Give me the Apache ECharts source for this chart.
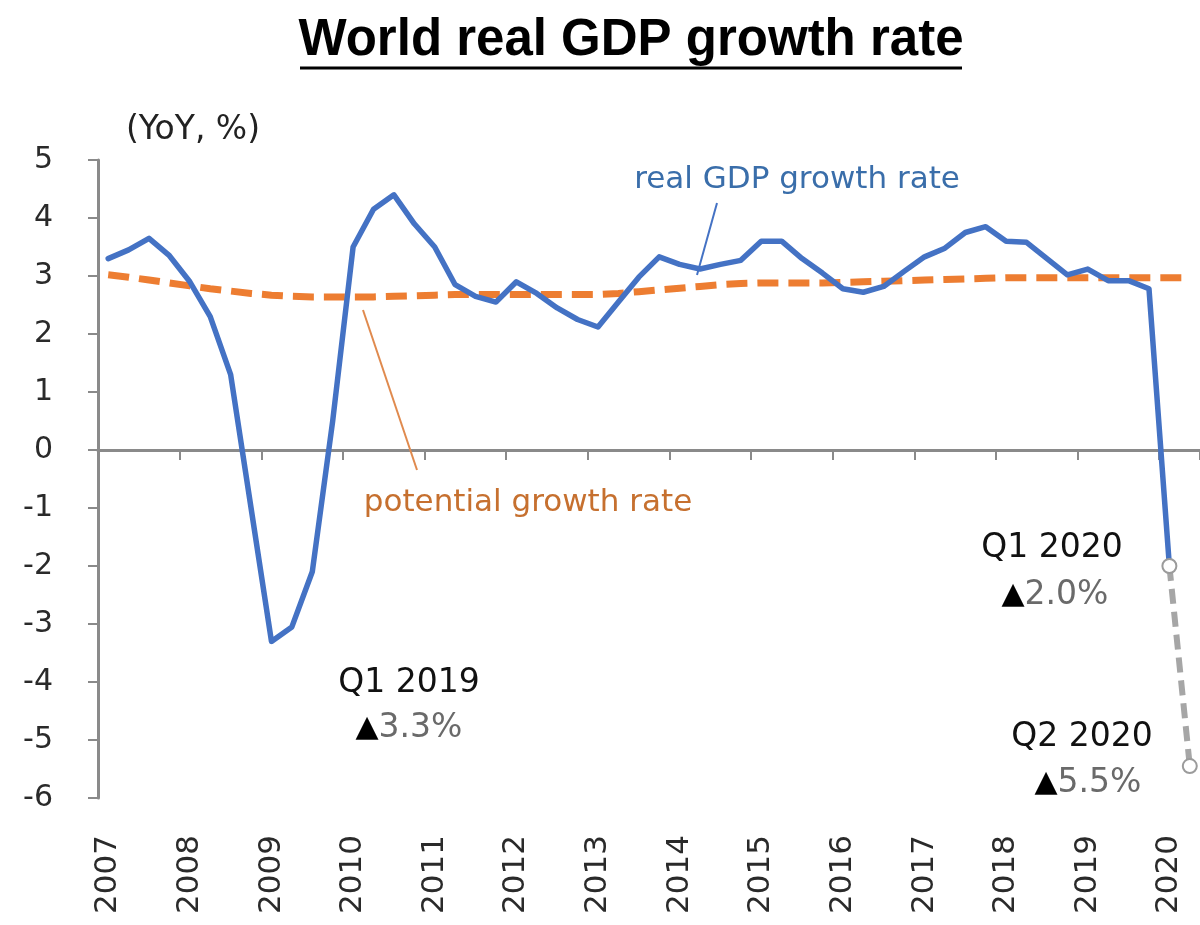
<!DOCTYPE html>
<html>
<head>
<meta charset="utf-8">
<script src="https://cdn.jsdelivr.net/npm/echarts@6/dist/echarts.min.js"></script>
<style>
html,body{margin:0;padding:0;background:#fff;}
#chart{width:1200px;height:925px;}
</style>
</head>
<body>
<div id="chart"></div>
<script>
// ---- data ----
const years = [2007, 2008, 2009, 2010, 2011, 2012, 2013, 2014, 2015, 2016, 2017, 2018, 2019, 2020];
const quarters = ['Q1', 'Q2', 'Q3', 'Q4'];
const yTickValues = [-6, -5, -4, -3, -2, -1, 0, 1, 2, 3, 4, 5];

// real GDP growth rate (YoY, %), quarterly 2007Q1 - 2020Q1
const realGDP = [
  3.3, 3.45, 3.65, 3.35,
  2.9, 2.3, 1.3, -1.0,
  -3.3, -3.05, -2.1, 0.5,
  3.5, 4.15, 4.4, 3.9,
  3.5, 2.85, 2.65, 2.55,
  2.9, 2.7, 2.45, 2.25,
  2.12, 2.55, 2.98, 3.33,
  3.2, 3.12, 3.2, 3.27,
  3.6, 3.6, 3.3, 3.05,
  2.78, 2.72, 2.82, 3.08,
  3.33, 3.48, 3.75, 3.85,
  3.6, 3.58, 3.3, 3.02,
  3.12, 2.92, 2.92, 2.78,
  -2.0, null
];

// projection segment Q1 2020 -> Q2 2020
const projection = [
  null, null, null, null, null, null, null, null, null, null, null, null, null,
  null, null, null, null, null, null, null, null, null, null, null, null, null,
  null, null, null, null, null, null, null, null, null, null, null, null, null,
  null, null, null, null, null, null, null, null, null, null, null, null, null,
  -2.0, -5.45
];

// potential growth rate (%), quarterly
const potential = [
  3.02, 2.98, 2.93, 2.88,
  2.83, 2.78, 2.74, 2.70,
  2.67, 2.65, 2.64, 2.64,
  2.64, 2.64, 2.65, 2.66,
  2.67, 2.68, 2.68, 2.68,
  2.68, 2.68, 2.68, 2.68,
  2.68, 2.70, 2.73, 2.76,
  2.79, 2.82, 2.85, 2.87,
  2.88, 2.88, 2.88, 2.88,
  2.89, 2.90, 2.91, 2.92,
  2.93, 2.94, 2.95, 2.96,
  2.97, 2.97, 2.97, 2.97,
  2.97, 2.97, 2.97, 2.97,
  2.97, 2.97
];

const categories = [];
years.forEach(function (y) {
  quarters.forEach(function (q) { categories.push(y + ' ' + q); });
});
categories.length = realGDP.length;

// ---- chart ----
const FONT = '"DejaVu Sans", sans-serif';
const AXIS_GRAY = '#8a8a8a';

const chart = echarts.init(document.getElementById('chart'), null, { renderer: 'canvas' });

function txt(x, y, text, size, color) {
  return {
    type: 'text',
    z: 100,
    style: {
      x: x, y: y, text: text,
      font: size + 'px ' + FONT,
      fill: color,
      align: 'center', verticalAlign: 'middle',
      textAlign: 'center', textVerticalAlign: 'middle'
    }
  };
}

function richPct(x, y, value) {
  return {
    type: 'text',
    z: 100,
    style: {
      x: x, y: y,
      text: '{a|▲}{b|' + value + '}',
      align: 'center', verticalAlign: 'middle',
      textAlign: 'center', textVerticalAlign: 'middle',
      rich: {
        a: { fontSize: 30, fontFamily: FONT, fill: '#000', color: '#000' },
        b: { fontSize: 33, fontFamily: FONT, fill: '#6a6a6a', color: '#6a6a6a' }
      }
    }
  };
}

const option = {
  animation: false,
  backgroundColor: '#ffffff',
  grid: { left: 98, right: -8, top: 160, bottom: 127, containLabel: false },
  xAxis: [
    {
      type: 'category',
      data: categories,
      position: 'bottom',
      boundaryGap: true,
      axisLine: { show: true, onZero: true, lineStyle: { color: AXIS_GRAY, width: 3 } },
      axisTick: { show: true, interval: 3, length: 10, lineStyle: { color: AXIS_GRAY, width: 2 } },
      axisLabel: { show: false },
      splitLine: { show: false }
    },
    {
      type: 'category',
      data: categories,
      position: 'bottom',
      boundaryGap: true,
      axisLine: { show: false, onZero: false },
      axisTick: { show: false },
      axisLabel: {
        show: true,
        interval: 3,
        rotate: 90,
        margin: 37,
        fontSize: 31,
        fontFamily: FONT,
        color: '#2a2a2a',
        formatter: function (v) { return v.slice(0, 4); }
      },
      splitLine: { show: false }
    }
  ],
  yAxis: {
    type: 'value',
    min: yTickValues[0],
    max: yTickValues[yTickValues.length - 1],
    interval: 1,
    axisLine: { show: true, lineStyle: { color: AXIS_GRAY, width: 3 } },
    axisTick: { show: true, length: 10, lineStyle: { color: AXIS_GRAY, width: 2 } },
    axisLabel: { fontSize: 30, fontFamily: FONT, color: '#2a2a2a', margin: 45 },
    splitLine: { show: false }
  },
  series: [
    {
      name: 'potential growth rate',
      type: 'line',
      data: potential,
      symbol: 'none',
      z: 2,
      lineStyle: { color: '#ED7D31', width: 7, type: [21, 10] }
    },
    {
      name: 'real GDP growth rate',
      type: 'line',
      data: realGDP,
      symbol: 'none',
      z: 3,
      lineStyle: { color: '#4472C4', width: 5.5, join: 'round', cap: 'round' }
    },
    {
      name: 'projection',
      type: 'line',
      data: projection,
      symbol: 'emptyCircle',
      symbolSize: 14,
      showAllSymbol: true,
      z: 4,
      itemStyle: { color: '#9b9b9b', borderColor: '#9b9b9b', borderWidth: 3 },
      lineStyle: { color: '#a6a6a6', width: 6, type: [15, 8] }
    }
  ],
  graphic: [
    {
      type: 'text', z: 100,
      style: {
        x: 631, y: 41, text: 'World real GDP growth rate',
        font: 'bold 51px "Liberation Sans", sans-serif', fill: '#000',
        align: 'center', verticalAlign: 'middle', textAlign: 'center', textVerticalAlign: 'middle'
      }
    },
    { type: 'line', z: 100, shape: { x1: 300, y1: 68, x2: 962, y2: 68 }, style: { stroke: '#000', lineWidth: 3 } },
    txt(193, 130, '(YoY, %)', 33, '#222'),
    txt(797, 180, 'real GDP growth rate', 31, '#3A6EAA'),
    { type: 'line', z: 100, shape: { x1: 717, y1: 203, x2: 697, y2: 275 }, style: { stroke: '#4472C4', lineWidth: 2 } },
    txt(528, 503, 'potential growth rate', 31, '#C6702F'),
    { type: 'line', z: 100, shape: { x1: 363, y1: 310, x2: 417, y2: 470 }, style: { stroke: '#E08A4E', lineWidth: 2 } },
    txt(409, 683, 'Q1 2019', 33, '#111'),
    richPct(409, 728, '3.3%'),
    txt(1052, 548, 'Q1 2020', 33, '#111'),
    richPct(1055, 595, '2.0%'),
    txt(1082, 737, 'Q2 2020', 33, '#111'),
    richPct(1088, 783, '5.5%')
  ]
};

chart.setOption(option);
</script>
</body>
</html>
